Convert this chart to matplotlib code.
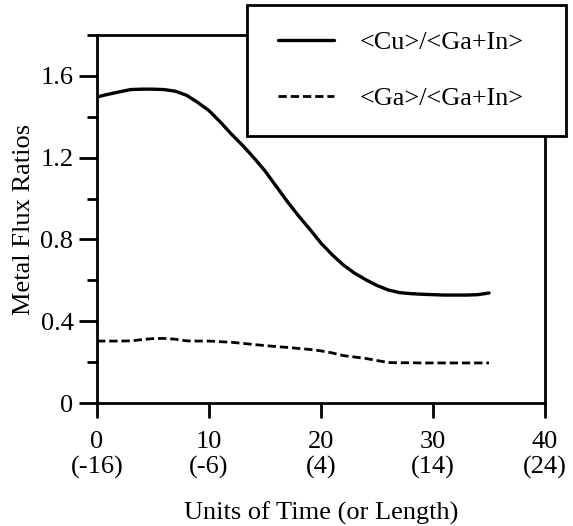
import matplotlib
matplotlib.use("Agg")
import matplotlib.pyplot as plt
from matplotlib.lines import Line2D
from matplotlib.legend_handler import HandlerLine2D
from matplotlib.ticker import MultipleLocator, FixedLocator, FixedFormatter

plt.rcParams["font.family"] = ["Liberation Serif", "DejaVu Serif"]

# Time axis (units) and metal flux ratio curves
time_units = [0, 1, 2, 3, 4, 5, 6, 7, 8, 9, 10, 11, 12, 13, 14, 15, 16, 17,
              18, 19, 20, 21, 22, 23, 24, 25, 26, 27, 28, 29, 30, 31, 32, 33,
              34, 35]
cu_ratio = [1.497, 1.51, 1.522, 1.533, 1.535, 1.535, 1.533, 1.525, 1.505,
            1.47, 1.43, 1.375, 1.315, 1.26, 1.2, 1.135, 1.06, 0.985, 0.915,
            0.85, 0.782, 0.725, 0.675, 0.635, 0.603, 0.575, 0.553, 0.54,
            0.535, 0.532, 0.53, 0.528, 0.528, 0.528, 0.53, 0.538]
ga_ratio = [0.303, 0.303, 0.303, 0.304, 0.31, 0.315, 0.316, 0.312, 0.304,
            0.303, 0.303, 0.3, 0.297, 0.292, 0.286, 0.281, 0.276, 0.272,
            0.267, 0.262, 0.255, 0.245, 0.232, 0.225, 0.218, 0.208, 0.198,
            0.197, 0.197, 0.196, 0.196, 0.196, 0.196, 0.196, 0.196, 0.196]

series_labels = ["<Cu>/<Ga+In>", "<Ga>/<Ga+In>"]

x_ticks = [0, 10, 20, 30, 40]
x_tick_labels = ["0\n(-16)", "10\n(-6)", "20\n(4)", "30\n(14)", "40\n(24)"]
y_ticks = [0, 0.4, 0.8, 1.2, 1.6]
y_tick_labels = ["0", "0.4", "0.8", "1.2", "1.6"]

fig = plt.figure(figsize=(5.73, 5.26), dpi=100)
ax = fig.add_axes([0.1693, 0.2338, 0.7818, 0.6997])

ax.plot(time_units, cu_ratio, color="black", lw=2.4, solid_capstyle="round",
        solid_joinstyle="round", label=series_labels[0])
ax.plot(time_units, ga_ratio, color="black", lw=2.0, ls=(0, (3.0, 1.4)),
        label=series_labels[1])

ax.set_xlim(0, 40)
ax.set_ylim(0, 1.8)

ax.xaxis.set_major_locator(FixedLocator(x_ticks))
ax.xaxis.set_major_formatter(FixedFormatter(x_tick_labels))
ax.yaxis.set_major_locator(FixedLocator(y_ticks))
ax.yaxis.set_major_formatter(FixedFormatter(y_tick_labels))
ax.yaxis.set_minor_locator(MultipleLocator(0.2))

for s in ax.spines.values():
    s.set_linewidth(2.0)

ax.tick_params(axis="x", which="major", direction="out", length=11, width=2.0,
               labelsize=19, pad=9)
ax.tick_params(axis="y", which="major", direction="out", length=13, width=2.0,
               labelsize=19, pad=4)
ax.tick_params(axis="y", which="minor", direction="out", length=7, width=2.0)

ax.set_xlabel("Units of Time (or Length)", fontsize=19, labelpad=16)
ax.set_ylabel("Metal Flux Ratios", fontsize=19, labelpad=4)

leg = ax.legend(loc="upper left", bbox_to_anchor=(0.431, 0.7395, 0.557, 0.251),
                bbox_transform=fig.transFigure, mode="expand", fontsize=18.8,
                frameon=True, fancybox=False, shadow=False, framealpha=1,
                borderpad=1.0, handlelength=2.35, handletextpad=0.96,
                labelspacing=1.24, borderaxespad=0,
                handler_map={Line2D: HandlerLine2D(xpad=0.17)})
leg.get_frame().set_edgecolor("black")
leg.get_frame().set_linewidth(2.0)

fig.savefig("out.png", dpi=100)
